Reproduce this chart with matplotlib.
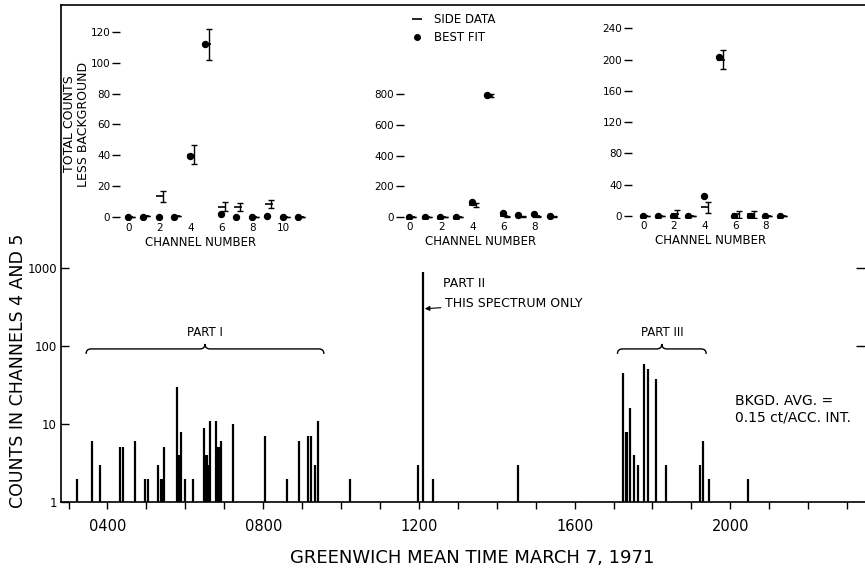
import numpy as np
import matplotlib
matplotlib.use("Agg")
import matplotlib.pyplot as plt
import matplotlib.transforms as mtransforms
from matplotlib.lines import Line2D
from matplotlib.patches import PathPatch
from matplotlib.path import Path
from matplotlib.ticker import FixedLocator, NullLocator

plt.rcParams["font.family"] = "DejaVu Sans"

W, H = 865, 568

# --- main panel: accumulation intervals (GMT, decimal hours) and counts in channels 4 and 5
event_hours = [3.22, 3.61, 3.81, 4.32, 4.41, 4.70, 4.97, 5.05, 5.29, 5.37, 5.41, 5.45,
               5.78, 5.81, 5.85, 5.89, 5.99, 6.20, 6.49, 6.52, 6.55, 6.58, 6.63,
               6.80, 6.84, 6.88, 6.92, 7.23, 8.05, 8.60, 8.92, 9.16, 9.22, 9.33, 9.40,
               10.23, 11.97, 12.10, 12.35, 14.54,
               17.23, 17.32, 17.35, 17.42, 17.53, 17.63, 17.79, 17.88, 18.09, 18.36,
               19.22, 19.29, 19.46, 20.46]
event_counts = [2, 6, 3, 5, 5, 6, 2, 2, 3, 2, 2, 5,
                30, 4, 4, 8, 2, 2, 9, 4, 4, 3, 11,
                11, 5, 5, 6, 10, 7, 2, 6, 7, 7, 3, 11,
                2, 3, 900, 2, 3,
                45, 8, 8, 16, 4, 3, 58, 50, 38, 3,
                3, 6, 2, 2]

time_ticks = [4, 8, 12, 16, 20]
time_labels = ["0400", "0800", "1200", "1600", "2000"]
count_ticks = [1, 10, 100, 1000]
count_labels = ["1", "10", "100", "1000"]

part1_span = (3.45, 9.56)
part3_span = (17.10, 19.38)
part2_hour = 12.10

# --- inset spectra: best fit and side data per channel
ch_a = np.arange(12)
fit_a = [0, 0, 0, 0, 39.5, 112.5, 2, 0, 0, 0.5, 0, 0]
side_a = [0, 0.5, 13.5, 0.5, 40.5, 112, 6.5, 6.5, 0, 8.5, 0, 0]
err_a = [0, 0, 3.5, 0, 6.2, 10.2, 2.9, 2.7, 0, 2.7, 0, 0]

ch_b = np.arange(10)
fit_b = [0, 0, 0, 0, 100, 795, 25, 11, 22, 4]
side_b = [0, 0, 0, 0, 78, 790, 5, 3, 5, 3]
err_b = [0, 0, 0, 0, 12, 10, 4, 4, 4, 4]

ch_c = np.arange(10)
fit_c = [0, 0, 0, 0, 25, 203, 0, 0, 0, 0]
side_c = [0, 0, 3, 0, 11, 200, 2, 2, 0, 0]
err_c = [0, 0, 5, 0, 7.3, 12.5, 4, 4, 0, 0]


def px_box(x0, y0, x1, y1):
    return [x0 / W, 1 - y1 / H, (x1 - x0) / W, (y1 - y0) / H]


def draw_brace(ax, x0, x1, y, h, d=0.13):
    trans = mtransforms.blended_transform_factory(ax.transData, ax.transAxes)
    xm = (x0 + x1) / 2
    verts = [(x0, y - h), (x0, y), (x0 + d, y), (xm - d, y), (xm, y), (xm, y + h),
             (xm, y), (xm + d, y), (x1 - d, y), (x1, y), (x1, y - h)]
    codes = [Path.MOVETO, Path.CURVE3, Path.CURVE3, Path.LINETO, Path.CURVE3, Path.CURVE3,
             Path.CURVE3, Path.CURVE3, Path.LINETO, Path.CURVE3, Path.CURVE3]
    ax.add_patch(PathPatch(Path(verts, codes), transform=trans, fill=False,
                           lw=1.0, color="black"))
    return trans, xm


def spectrum_inset(box, ch, fit, side, err, yticks, xlim, ylim):
    a = fig.add_axes(box)
    a.plot(ch - 0.05, fit, "o", ms=4.3, color="black")
    a.plot(ch + 0.05, side, "_", ms=6, mew=1.2, color="black")
    a.errorbar(ch + 0.22, side, yerr=err, fmt="none", ecolor="black",
               elinewidth=1, capsize=2, capthick=1)
    for s in a.spines.values():
        s.set_visible(False)
    a.set_xlim(*xlim)
    a.set_ylim(*ylim)
    a.set_yticks(yticks)
    a.set_xticks(ch[::2])
    a.tick_params(axis="y", direction="out", length=6, width=1, pad=1, labelsize=7.5)
    a.tick_params(axis="x", length=0, pad=2, labelsize=7.5)
    a.set_xlabel("CHANNEL NUMBER", fontsize=8.5, labelpad=2)
    a.patch.set_alpha(0)
    return a


fig = plt.figure(figsize=(W / 100, H / 100), dpi=100)

ax = fig.add_axes(px_box(61, 5, 866, 502))
ax.vlines(event_hours, 1, event_counts, colors="black", lw=1.6)
ax.set_yscale("log")
ax.set_ylim(1, 10 ** 6.37)
ax.set_xlim(2.806, 23.485)
ax.set_yticks(count_ticks)
ax.set_yticklabels(count_labels)
ax.yaxis.set_minor_locator(NullLocator())
ax.set_xticks(time_ticks)
ax.set_xticklabels(time_labels)
ax.xaxis.set_minor_locator(FixedLocator(np.arange(3, 24)))
ax.tick_params(axis="y", direction="in", length=6, width=1, pad=3, labelsize=8.5)
ax.tick_params(axis="x", which="both", direction="out", length=5, width=1, pad=7,
               labelsize=10.5)
for s in ax.spines.values():
    s.set_linewidth(1.2)

right = ax.secondary_yaxis("right")
right.set_yticks([100, 1000])
right.set_yticklabels(["", ""])
right.yaxis.set_minor_locator(NullLocator())
right.tick_params(direction="in", length=7, width=1)
right.spines["right"].set_visible(False)

ax.set_xlabel("GREENWICH MEAN TIME MARCH 7, 1971", fontsize=13)
ax.xaxis.set_label_coords((472 - 61) / 805, (502 - 549) / 497)
ax.set_ylabel("COUNTS IN CHANNELS 4 AND 5", fontsize=12.5)
ax.yaxis.set_label_coords((27 - 61) / 805, (502 - 371) / 497)

trans, xm = draw_brace(ax, *part1_span, 0.308, 0.010)
ax.text(xm, 0.342, "PART I", transform=trans, ha="center", va="center", fontsize=8.5)
trans, xm = draw_brace(ax, *part3_span, 0.308, 0.010)
ax.text(xm, 0.342, "PART III", transform=trans, ha="center", va="center", fontsize=8.5)

ax.text(12.62, 640, "PART II", ha="left", va="center", fontsize=9)
ax.annotate("THIS SPECTRUM ONLY", xy=(part2_hour + 0.05, 300), xytext=(12.67, 355),
            ha="left", va="center", fontsize=9,
            arrowprops=dict(arrowstyle="-|>", color="black", lw=0.8,
                            shrinkA=1, shrinkB=0, mutation_scale=7))
ax.text((735 - 61) / 805, (502 - 409.5) / 497, "BKGD. AVG. =\n0.15 ct/ACC. INT.",
        transform=ax.transAxes, ha="left", va="center", fontsize=10, linespacing=1.25)

ax1 = spectrum_inset(px_box(120, 24.3, 306.6, 220), ch_a, fit_a, side_a, err_a,
                     np.arange(0, 121, 20), (-0.54, 11.5), (-2, 125))
ax1.xaxis.label.set_x(0.434)
ax1.set_ylabel("TOTAL COUNTS\nLESS BACKGROUND", fontsize=9, linespacing=1.05)
ax1.yaxis.set_label_coords((90 - 120) / 186.6, 0.49)

ax2 = spectrum_inset(px_box(403.8, 89.7, 558.2, 219), ch_b, fit_b, side_b, err_b,
                     np.arange(0, 801, 200), (-0.4, 9.5), (-13, 830))
ax3 = spectrum_inset(px_box(632, 20.6, 788.7, 218.3), ch_c, fit_c, side_c, err_c,
                     np.arange(0, 241, 40), (-0.74, 9.5), (-3, 250))

handles = [Line2D([], [], ls="none", marker="_", ms=7, mew=1.2, color="black"),
           Line2D([], [], ls="none", marker="o", ms=4, color="black")]
fig.legend(handles, ["SIDE DATA", "BEST FIT"], loc="upper left",
           bbox_to_anchor=(410 / W, 1 - 13 / H), frameon=False, fontsize=8.5,
           borderpad=0, borderaxespad=0, handlelength=1.2, handletextpad=0.8,
           labelspacing=0.45)

fig.savefig("out.png", dpi=100)
